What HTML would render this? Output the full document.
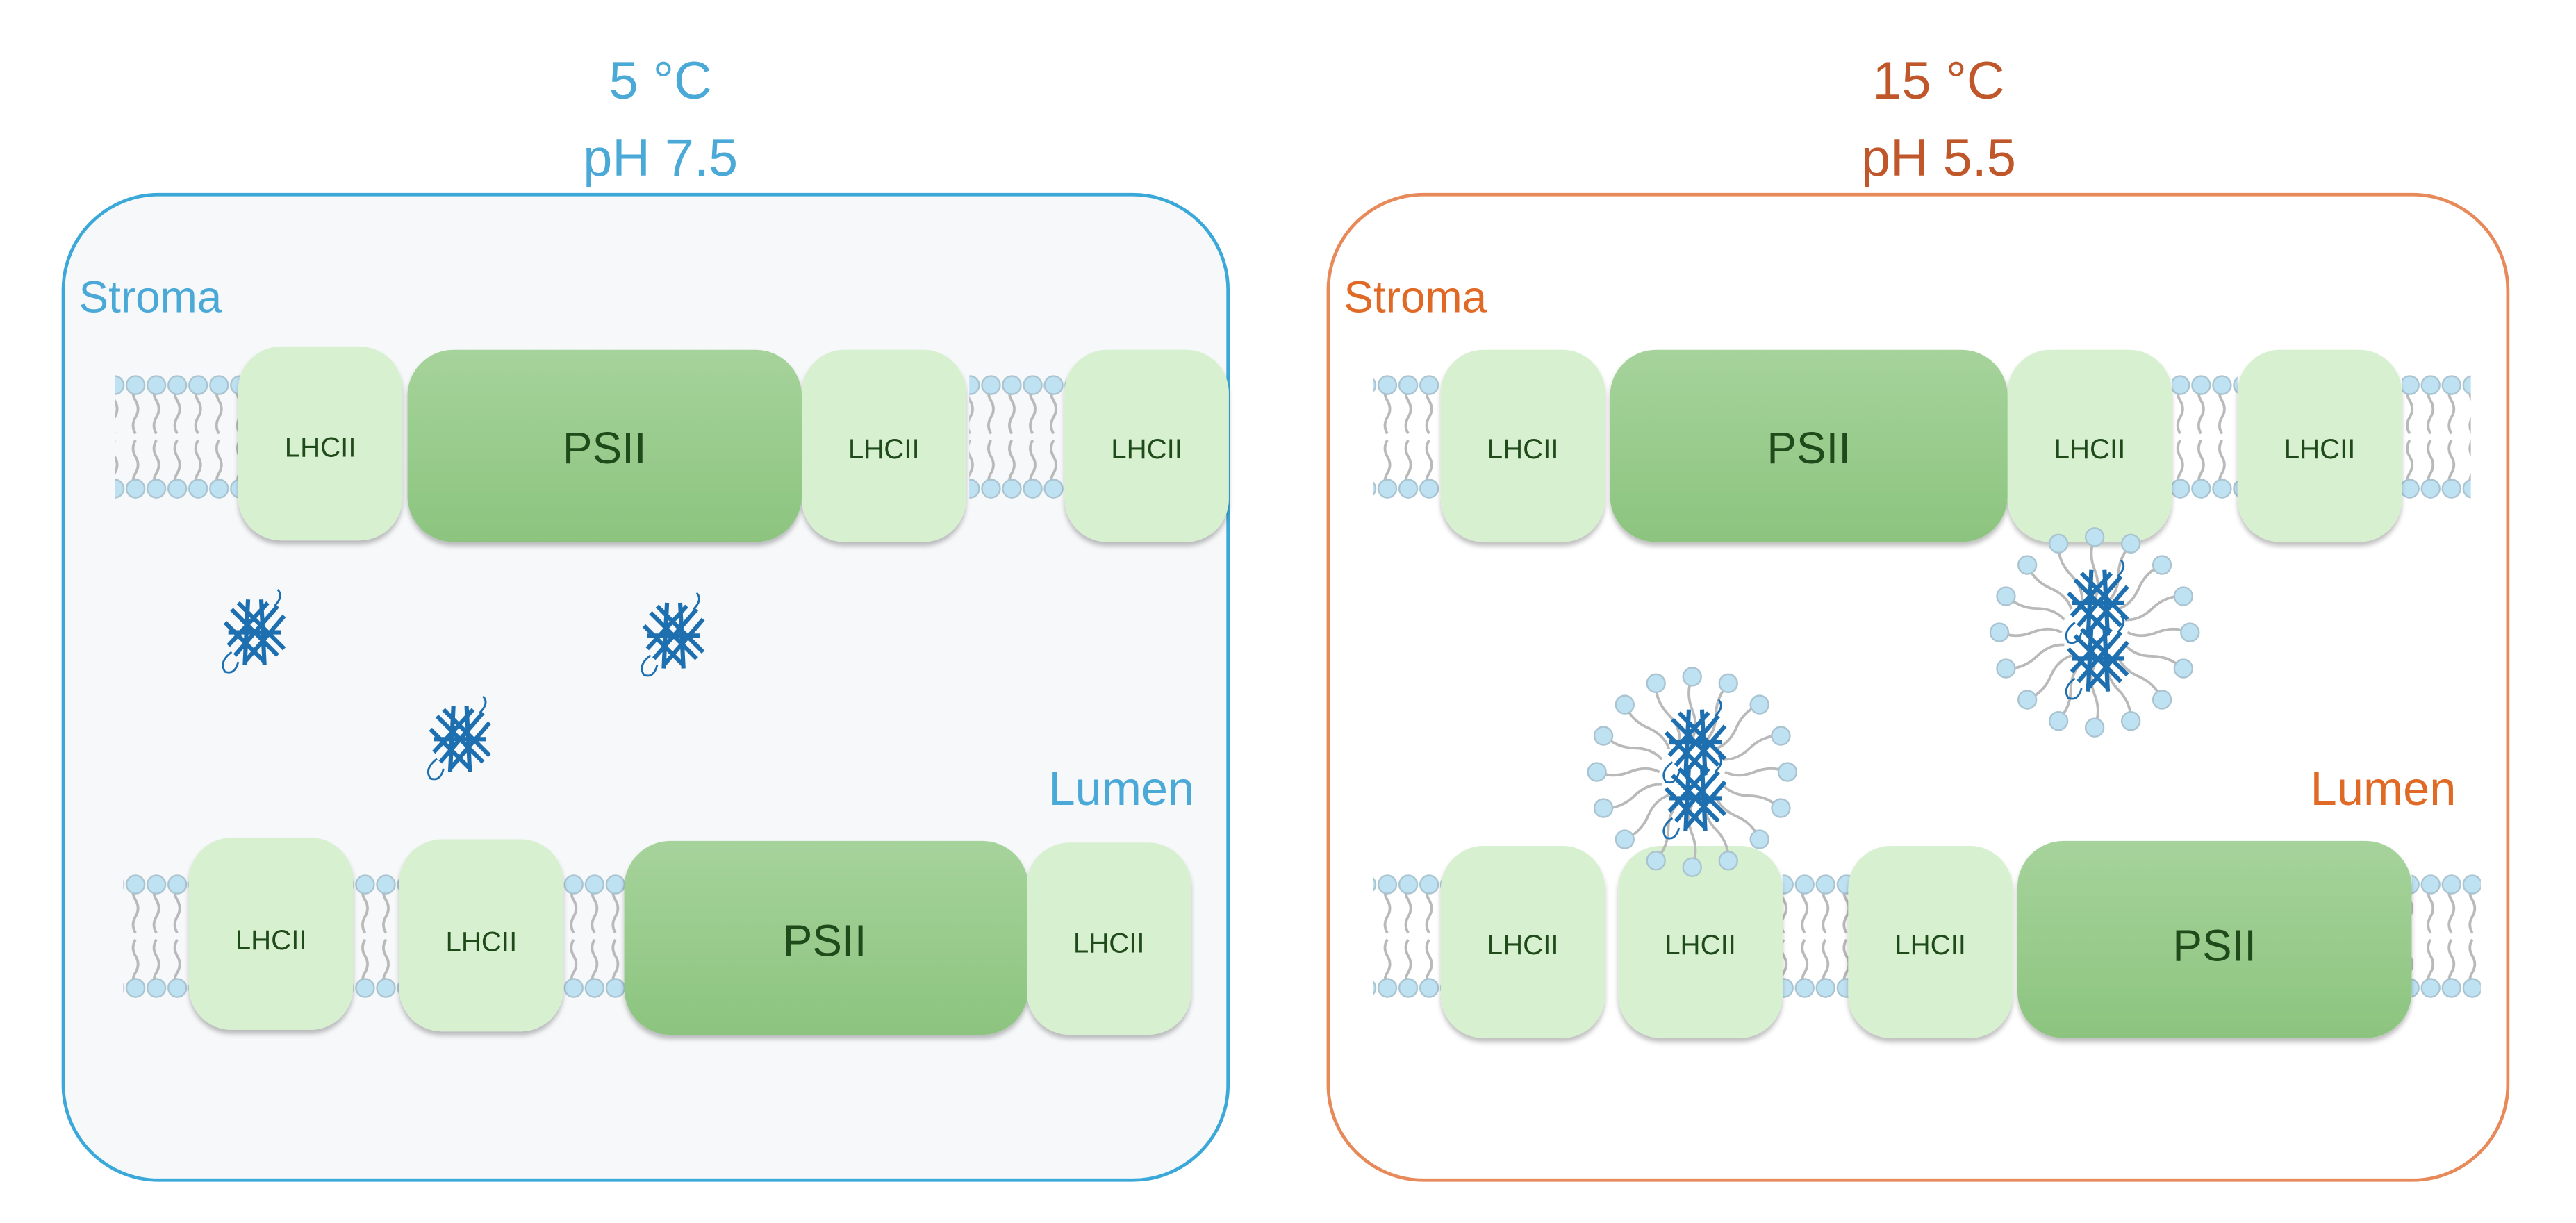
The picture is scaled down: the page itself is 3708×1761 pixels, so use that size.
<!DOCTYPE html>
<html><head><meta charset="utf-8"><style>
html,body{margin:0;padding:0;background:#fff;}
svg{display:block;}
text{font-family:"Liberation Sans",Arial,sans-serif;}
</style></head><body>
<svg width="3708" height="1761" viewBox="0 0 1568 744.6" preserveAspectRatio="none" xmlns="http://www.w3.org/2000/svg">
<defs>
<pattern id="lip" x="0" y="0" width="12.7" height="76" patternUnits="userSpaceOnUse">
  <path d="M6.3 6 q-3 5 0 10 q3 5 0 10 q-3 5 0 10 M6.3 70 q-3 -5 0 -10 q3 -5 0 -10 q-3 -5 0 -10" stroke="#b9b9b9" stroke-width="1.6" fill="none"/>
  <circle cx="6.3" cy="6.5" r="5.5" fill="#bfe2f3" stroke="#a9c4d0" stroke-width="1"/>
  <circle cx="6.3" cy="69.5" r="5.5" fill="#bfe2f3" stroke="#a9c4d0" stroke-width="1"/>
</pattern>
<linearGradient id="ps" x1="0" y1="0" x2="0" y2="1"><stop offset="0" stop-color="#a6d39b"/><stop offset="1" stop-color="#8cc47f"/></linearGradient>
<filter id="sh" x="-10%" y="-10%" width="120%" height="130%"><feDropShadow dx="0" dy="2.5" stdDeviation="1.5" flood-color="#000" flood-opacity="0.25"/></filter>
<g id="gfp">
  <path d="M-14 -14 L14 14 M-10 -18 L18 10 M-18 -6 L6 18 M14 -16 L-12 14 M18 -10 L-6 18 M8 -18 L-16 8 M-4 -20 L-6 20 M4 -20 L6 20 M-16 0 L16 0" stroke="#1e6fb0" stroke-width="2.6" fill="none"/>
  <path d="M-14 12 q-8 6 -4 12 q6 2 8 -6 M12 -16 q6 -6 2 -10" stroke="#1e6fb0" stroke-width="1.2" fill="none"/>
</g>
</defs>

<!-- LEFT PANEL -->
<text x="402" y="60" font-size="32" fill="#4aa9d6" text-anchor="middle">5 °C</text>
<text x="402" y="107" font-size="32" fill="#4aa9d6" text-anchor="middle">pH 7.5</text>
<rect x="38.5" y="118.5" width="709" height="600" rx="58" fill="#f6f8fa" stroke="#3aa8d8" stroke-width="2"/>
<text x="48" y="190" font-size="27" fill="#4aa9d6">Stroma</text>
<text x="727" y="490" font-size="29" fill="#4aa9d6" text-anchor="end">Lumen</text>

<rect x="70" y="228" width="76" height="76" fill="url(#lip)"/>
<rect x="590" y="228" width="60" height="76" fill="url(#lip)"/>
<g filter="url(#sh)">
<rect x="145" y="211" width="100" height="118" rx="26" fill="#d7f0cf"/>
<rect x="248" y="213" width="240" height="117" rx="28" fill="url(#ps)"/>
<rect x="488" y="213" width="100" height="117" rx="26" fill="#d7f0cf"/>
<rect x="648" y="213" width="100" height="117" rx="26" fill="#d7f0cf"/>
</g>
<g font-size="17" fill="#1f4a1a" text-anchor="middle">
<text x="195" y="278">LHCII</text><text x="538" y="279">LHCII</text><text x="698" y="279">LHCII</text>
<text x="368" y="282" font-size="27">PSII</text>
</g>

<rect x="75" y="532" width="40" height="76" fill="url(#lip)"/>
<rect x="208" y="532" width="36" height="76" fill="url(#lip)"/>
<rect x="342" y="532" width="40" height="76" fill="url(#lip)"/>
<g filter="url(#sh)">
<rect x="115" y="510" width="100" height="117" rx="26" fill="#d7f0cf"/>
<rect x="243" y="511" width="100" height="117" rx="26" fill="#d7f0cf"/>
<rect x="380" y="512" width="246" height="118" rx="28" fill="url(#ps)"/>
<rect x="625" y="513" width="100" height="117" rx="26" fill="#d7f0cf"/>
</g>
<g font-size="17" fill="#1f4a1a" text-anchor="middle">
<text x="165" y="578">LHCII</text><text x="293" y="579">LHCII</text><text x="675" y="580">LHCII</text>
<text x="502" y="582" font-size="27">PSII</text>
</g>
<use href="#gfp" x="155" y="385"/>
<use href="#gfp" x="410" y="387"/>
<use href="#gfp" x="280" y="450"/>

<!-- RIGHT PANEL -->
<text x="1180" y="60" font-size="32" fill="#c0572a" text-anchor="middle">15 °C</text>
<text x="1180" y="107" font-size="32" fill="#c0572a" text-anchor="middle">pH 5.5</text>
<rect x="808.5" y="118.5" width="718" height="600" rx="58" fill="#ffffff" stroke="#e8895a" stroke-width="2"/>
<text x="818" y="190" font-size="27" fill="#e06a25">Stroma</text>
<text x="1495" y="490" font-size="29" fill="#e06a25" text-anchor="end">Lumen</text>

<rect x="836" y="228" width="40" height="76" fill="url(#lip)"/>
<rect x="1322" y="228" width="40" height="76" fill="url(#lip)"/>
<rect x="1462" y="228" width="42" height="76" fill="url(#lip)"/>
<g filter="url(#sh)">
<rect x="877" y="213" width="100" height="117" rx="26" fill="#d7f0cf"/>
<rect x="980" y="213" width="242" height="117" rx="28" fill="url(#ps)"/>
<rect x="1222" y="213" width="100" height="117" rx="26" fill="#d7f0cf"/>
<rect x="1362" y="213" width="100" height="117" rx="26" fill="#d7f0cf"/>
</g>
<g font-size="17" fill="#1f4a1a" text-anchor="middle">
<text x="927" y="279">LHCII</text><text x="1272" y="279">LHCII</text><text x="1412" y="279">LHCII</text>
<text x="1101" y="282" font-size="27">PSII</text>
</g>

<rect x="836" y="532" width="42" height="76" fill="url(#lip)"/>
<rect x="1085" y="532" width="42" height="76" fill="url(#lip)"/>
<rect x="1468" y="532" width="42" height="76" fill="url(#lip)"/>
<g filter="url(#sh)">
<rect x="877" y="515" width="100" height="117" rx="26" fill="#d7f0cf"/>
<rect x="985" y="515" width="100" height="117" rx="26" fill="#d7f0cf"/>
<rect x="1125" y="515" width="100" height="117" rx="26" fill="#d7f0cf"/>
<rect x="1228" y="512" width="240" height="120" rx="28" fill="url(#ps)"/>
</g>
<g font-size="17" fill="#1f4a1a" text-anchor="middle">
<text x="927" y="581">LHCII</text><text x="1035" y="581">LHCII</text><text x="1175" y="581">LHCII</text>
<text x="1348" y="585" font-size="27">PSII</text>
</g>

<!-- micelles -->
<g id="m1" transform="translate(1275,385)">
  <g stroke="#b9b9b9" stroke-width="1.6" fill="none">
    <path d="M0 -58 q-4 10 0 20 q4 10 0 18" transform="rotate(0)"/>
    <path d="M0 -58 q-4 10 0 20 q4 10 0 18" transform="rotate(22.5)"/>
    <path d="M0 -58 q-4 10 0 20 q4 10 0 18" transform="rotate(45)"/>
    <path d="M0 -58 q-4 10 0 20 q4 10 0 18" transform="rotate(67.5)"/>
    <path d="M0 -58 q-4 10 0 20 q4 10 0 18" transform="rotate(90)"/>
    <path d="M0 -58 q-4 10 0 20 q4 10 0 18" transform="rotate(112.5)"/>
    <path d="M0 -58 q-4 10 0 20 q4 10 0 18" transform="rotate(135)"/>
    <path d="M0 -58 q-4 10 0 20 q4 10 0 18" transform="rotate(157.5)"/>
    <path d="M0 -58 q-4 10 0 20 q4 10 0 18" transform="rotate(180)"/>
    <path d="M0 -58 q-4 10 0 20 q4 10 0 18" transform="rotate(202.5)"/>
    <path d="M0 -58 q-4 10 0 20 q4 10 0 18" transform="rotate(225)"/>
    <path d="M0 -58 q-4 10 0 20 q4 10 0 18" transform="rotate(247.5)"/>
    <path d="M0 -58 q-4 10 0 20 q4 10 0 18" transform="rotate(270)"/>
    <path d="M0 -58 q-4 10 0 20 q4 10 0 18" transform="rotate(292.5)"/>
    <path d="M0 -58 q-4 10 0 20 q4 10 0 18" transform="rotate(315)"/>
    <path d="M0 -58 q-4 10 0 20 q4 10 0 18" transform="rotate(337.5)"/>
  </g>
  <g fill="#bfe2f3" stroke="#a9c4d0">
    <circle cx="0" cy="-58" r="5.5"/><circle cx="22" cy="-54" r="5.5"/><circle cx="41" cy="-41" r="5.5"/><circle cx="54" cy="-22" r="5.5"/>
    <circle cx="58" cy="0" r="5.5"/><circle cx="54" cy="22" r="5.5"/><circle cx="41" cy="41" r="5.5"/><circle cx="22" cy="54" r="5.5"/>
    <circle cx="0" cy="58" r="5.5"/><circle cx="-22" cy="54" r="5.5"/><circle cx="-41" cy="41" r="5.5"/><circle cx="-54" cy="22" r="5.5"/>
    <circle cx="-58" cy="0" r="5.5"/><circle cx="-54" cy="-22" r="5.5"/><circle cx="-41" cy="-41" r="5.5"/><circle cx="-22" cy="-54" r="5.5"/>
  </g>
  <use href="#gfp" x="2" y="-18"/><use href="#gfp" x="2" y="16"/>
</g>
<use href="#m1" transform="translate(-245,85)"/>
</svg>
</body></html>
